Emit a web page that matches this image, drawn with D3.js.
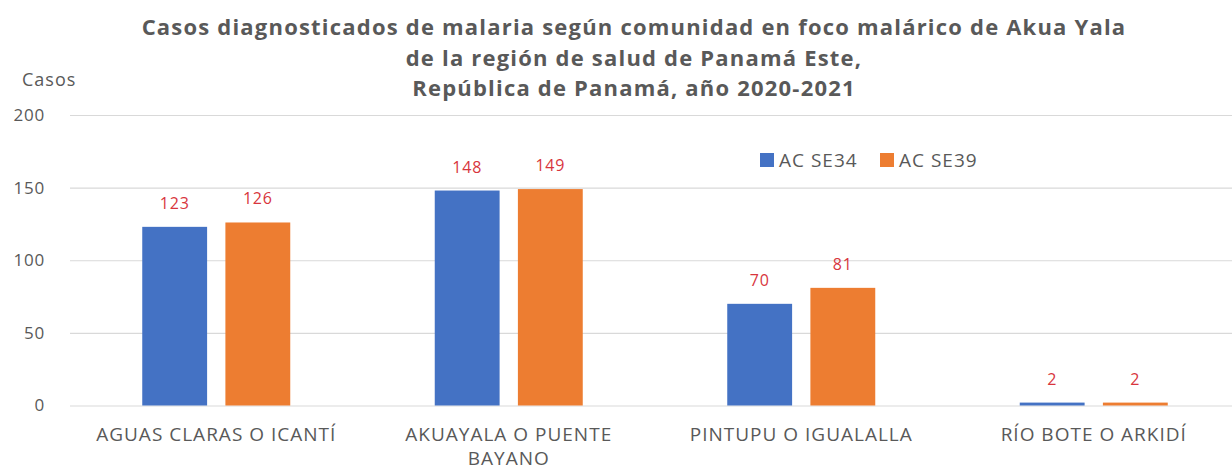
<!DOCTYPE html>
<meta charset="utf-8">
<style>
  body { margin: 0; background: #fff; }
  text { font-family: "Open Sans", sans-serif; }
</style>
<body>
<div id="chart"></div>
<script src="https://d3js.org/d3.v7.min.js"></script>
<script>
  // data
  var categories = ["AGUAS CLARAS O ICANTÍ", "AKUAYALA O PUENTE BAYANO", "PINTUPU O IGUALALLA", "RÍO BOTE O ARKIDÍ"];
  var series = ["AC SE34", "AC SE39"];
  var se34 = [123, 148, 70, 2];
  var se39 = [126, 149, 81, 2];
  var yTicks = [0, 50, 100, 150, 200];
  var titleLines = [
    "Casos diagnosticados de malaria según comunidad en foco malárico de Akua Yala",
    "de la región de salud de Panamá Este,",
    "República de Panamá, año 2020-2021"
  ];

  var W = 1232, H = 468;
  var margin = { left: 70, right: 1240, top: 115, bottom: 405.5 };
  var grey = "#595959";

  var color = d3.scaleOrdinal().domain(series).range(["#4472C4", "#ED7D31"]);

  var svg = d3.select("#chart").append("svg")
    .attr("width", W).attr("height", H)
    .style("display", "block");

  var x0 = d3.scaleBand().domain(categories).range([margin.left, margin.right]);
  var x1 = d3.scaleBand().domain(series)
    .range([x0.bandwidth() / 2 - 74, x0.bandwidth() / 2 + 74])
    .paddingInner(0.22);
  var y = d3.scaleLinear().domain([0, 200]).range([margin.bottom, margin.top]);

  // gridlines + y tick labels
  var yAxis = svg.append("g")
    .attr("transform", "translate(" + margin.left + ",0)")
    .call(d3.axisLeft(y).tickValues(yTicks).tickSize(-(margin.right - margin.left)).tickPadding(25));
  yAxis.select(".domain").remove();
  yAxis.selectAll(".tick line").attr("stroke", "#d9d9d9").attr("stroke-width", 1.2);
  yAxis.selectAll(".tick text")
    .attr("fill", grey)
    .style("font-size", "17px")
    .style("letter-spacing", "0.8px")
    .style("font-family", "Open Sans, sans-serif");

  // bars
  var rows = categories.map(function (c, i) {
    return { cat: c, values: [{ s: series[0], v: se34[i] }, { s: series[1], v: se39[i] }] };
  });

  var groups = svg.append("g").selectAll("g")
    .data(rows)
    .enter().append("g")
    .attr("transform", function (d) { return "translate(" + x0(d.cat) + ",0)"; });

  groups.selectAll("rect")
    .data(function (d) { return d.values; })
    .enter().append("rect")
    .attr("x", function (d) { return x1(d.s); })
    .attr("y", function (d) { return y(d.v); })
    .attr("width", x1.bandwidth())
    .attr("height", function (d) { return y(0) - y(d.v); })
    .attr("fill", function (d) { return color(d.s); });

  // value labels
  groups.selectAll("text.val")
    .data(function (d) { return d.values; })
    .enter().append("text")
    .attr("class", "val")
    .attr("x", function (d) { return x1(d.s) + x1.bandwidth() / 2; })
    .attr("y", function (d) { return y(d.v) - 18; })
    .attr("text-anchor", "middle")
    .attr("fill", "#d8353d")
    .style("font-size", "16px")
    .style("letter-spacing", "0.8px")
    .text(function (d) { return d.v; });

  // x category labels (wrapped)
  var xl = svg.append("g").selectAll("text")
    .data(categories)
    .enter().append("text")
    .attr("x", function (d) { return x0(d) + x0.bandwidth() / 2; })
    .attr("y", 441)
    .attr("text-anchor", "middle")
    .attr("fill", grey)
    .style("font-size", "19px")
    .style("letter-spacing", "1px")
    .text(function (d) { return d; });

  xl.each(function (d) {
    var t = d3.select(this);
    var words = d.split(" ");
    var line = [];
    var lines = [];
    t.text(null);
    var probe = t.append("tspan");
    words.forEach(function (w) {
      line.push(w);
      probe.text(line.join(" "));
      if (probe.node().getComputedTextLength() > 260 && line.length > 1) {
        line.pop();
        lines.push(line.join(" "));
        line = [w];
      }
    });
    lines.push(line.join(" "));
    probe.remove();
    var cx = t.attr("x");
    lines.forEach(function (l, i) {
      t.append("tspan").attr("x", cx).attr("dy", i === 0 ? 0 : 24).text(l);
    });
  });

  // title
  svg.append("text")
    .attr("text-anchor", "middle")
    .attr("fill", grey)
    .style("font-size", "22px")
    .style("font-weight", "bold")
    .style("letter-spacing", "1.2px")
    .selectAll("tspan")
    .data(titleLines)
    .enter().append("tspan")
    .attr("x", 634)
    .attr("y", function (d, i) { return 35 + i * 30.5; })
    .text(function (d) { return d; });

  // y axis title
  svg.append("text")
    .attr("x", 22).attr("y", 86)
    .attr("fill", grey)
    .style("font-size", "18px")
    .style("letter-spacing", "1px")
    .text("Casos");

  // legend
  var legend = svg.append("g").attr("transform", "translate(760,153)");
  var li = legend.selectAll("g")
    .data(series)
    .enter().append("g")
    .attr("transform", function (d, i) { return "translate(" + (i * 120) + ",0)"; });
  li.append("rect")
    .attr("width", 14).attr("height", 14)
    .attr("fill", function (d) { return color(d); });
  li.append("text")
    .attr("x", 19).attr("y", 14)
    .attr("fill", grey)
    .style("font-size", "19px")
    .style("letter-spacing", "1px")
    .text(function (d) { return d; });
</script>
</body>
